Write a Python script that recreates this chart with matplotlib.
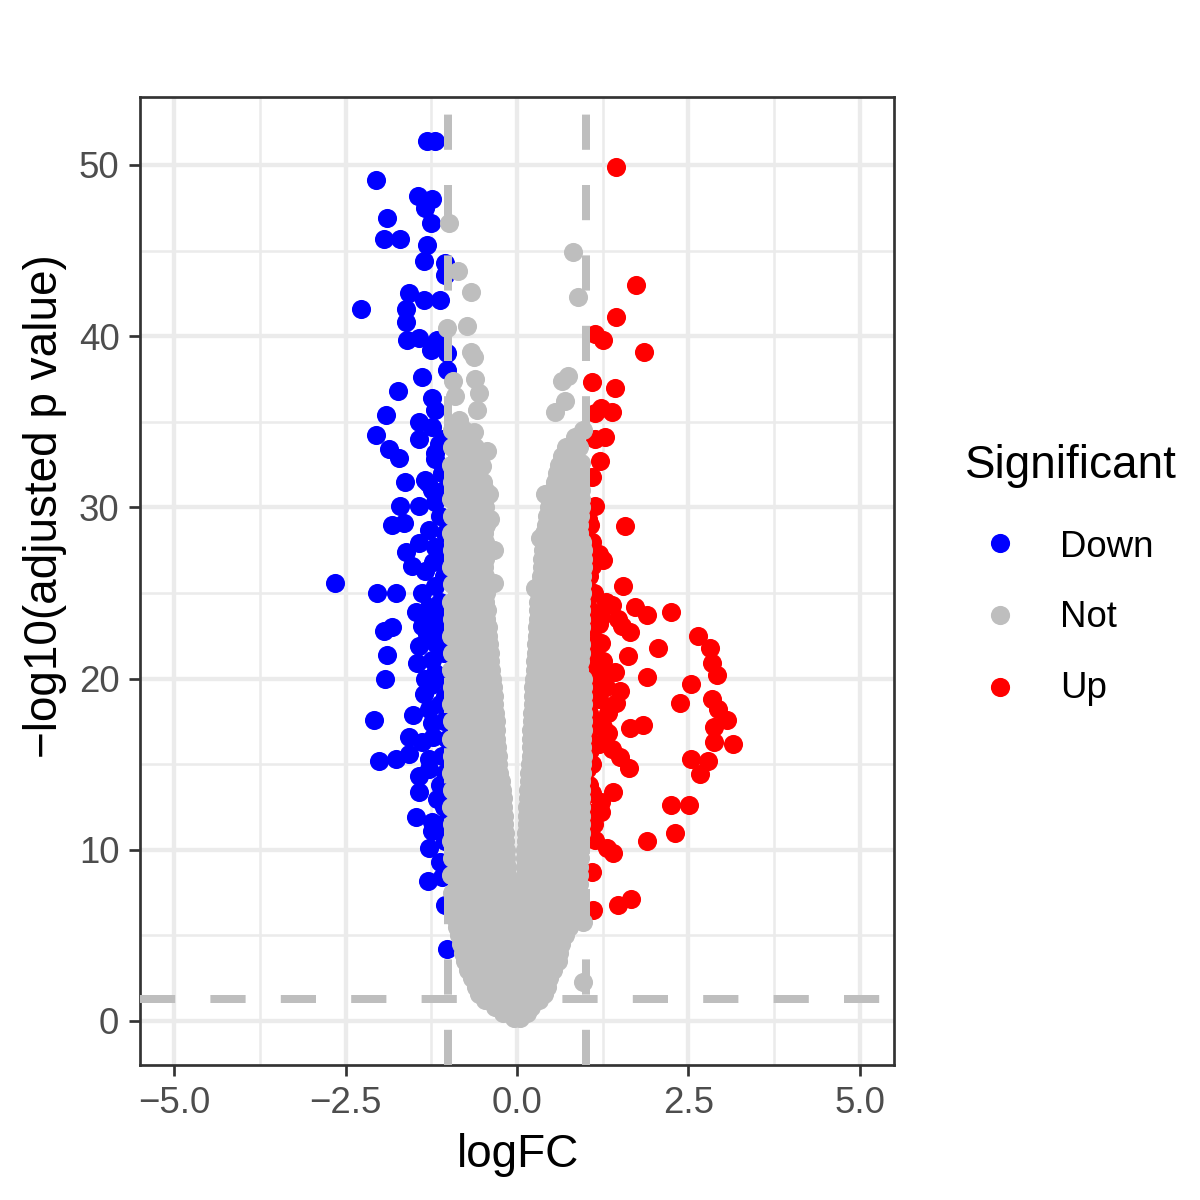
import matplotlib
matplotlib.use("Agg")
import matplotlib.pyplot as plt
from matplotlib.lines import Line2D

plt.rcParams['font.family'] = ['Liberation Sans', 'DejaVu Sans']

# ---------------- data ----------------
down_x = [-1.31, -1.19, -2.06, -1.44, -1.24, -1.34, -1.90, -1.26, -1.94, -1.71, -1.32, -1.35, -1.05, -1.05,
          -1.58, -1.35, -1.12, -2.28, -1.62, -1.62, -1.60, -1.43, -1.26, -1.17, -1.02, -1.02, -1.38, -1.74,
          -1.24, -1.19, -1.91, -1.43, -1.24, -2.06, -1.43, -1.14, -1.87, -1.72, -1.19, -1.19, -1.64, -1.34,
          -1.24, -1.71, -1.43, -1.19, -1.83, -1.65, -1.29, -1.62, -1.43, -1.19, -1.22, -1.53, -1.34, -2.66,
          -2.04, -1.76, -1.39, -1.19, -1.48, -1.24, -1.94, -1.83, -1.39, -1.19, -1.43, -1.19, -1.89, -1.46,
          -1.24, -1.93, -1.34, -1.19, -1.36, -1.51, -1.29, -2.09, -1.24, -1.58, -1.39, -1.22, -1.02, -2.02,
          -1.77, -1.58, -1.29, -1.43, -1.29, -1.43, -1.17, -1.48, -1.24, -1.24, -1.29, -1.12, -1.30, -1.09,
          -1.05, -1.02,
          -1.08, -1.10, -1.06, -1.12, -1.05, -1.10, -1.06, -1.12, -1.05, -1.10, -1.06, -1.10, -1.05, -1.12,
          -1.06, -1.10, -1.05, -1.12, -1.06, -1.10, -1.05, -1.30, -1.28, -1.32, -1.25]
down_y = [51.4, 51.4, 49.1, 48.2, 48.0, 47.5, 46.9, 46.6, 45.7, 45.7, 45.3, 44.4, 44.3, 43.6,
          42.5, 42.1, 42.1, 41.6, 41.6, 40.8, 39.8, 39.9, 39.2, 39.8, 39.0, 38.0, 37.6, 36.8,
          36.4, 35.7, 35.4, 35.0, 34.7, 34.2, 34.0, 33.7, 33.4, 32.9, 33.2, 32.8, 31.5, 31.6,
          31.0, 30.1, 30.1, 30.3, 29.0, 29.1, 28.7, 27.4, 27.9, 27.7, 26.8, 26.6, 26.3, 25.6,
          25.0, 25.0, 25.0, 25.4, 23.9, 23.8, 22.8, 23.0, 23.1, 23.1, 21.9, 22.1, 21.4, 20.9,
          21.1, 20.0, 20.0, 20.3, 19.1, 17.9, 18.2, 17.6, 17.4, 16.6, 16.3, 16.6, 16.5, 15.2,
          15.3, 15.6, 15.3, 14.3, 14.7, 13.4, 12.95, 11.9, 11.6, 11.1, 10.1, 9.3, 8.2, 8.4,
          6.8, 4.2,
          34.0, 32.0, 31.0, 29.5, 28.5, 27.0, 26.0, 24.5, 23.5, 22.5, 21.5, 20.0, 19.0, 18.5,
          17.5, 15.5, 14.5, 13.8, 12.5, 11.5, 10.5, 31.4, 24.2, 22.6, 19.6]

up_x = [1.45, 1.74, 1.44, 1.14, 1.25, 1.86, 1.10, 1.43, 1.23, 1.38, 1.14, 1.14, 1.28, 1.21, 1.09, 1.14,
        1.04, 1.57, 1.19, 1.26, 1.02, 1.09, 1.54, 1.38, 1.72, 1.89, 2.25, 1.23, 1.48, 1.65, 1.53, 1.19,
        1.23, 2.06, 2.64, 2.81, 2.84, 2.92, 1.62, 1.11, 1.43, 1.21, 1.89, 2.54, 1.50, 1.45, 1.33, 2.38,
        2.84, 2.93, 3.07, 2.88, 2.88, 3.15, 1.65, 1.84, 1.04, 1.33, 1.19, 1.38, 1.50, 1.63, 2.54, 2.79,
        2.67, 1.02, 1.09, 1.40, 1.23, 1.23, 1.04, 2.24, 2.51, 2.31, 1.14, 1.31, 1.40, 1.90, 1.09, 1.48,
        1.67, 1.11,
        1.06, 1.10, 1.05, 1.12, 1.06, 1.10, 1.05, 1.12, 1.06, 1.10, 1.05, 1.12, 1.06, 1.10, 1.05, 1.12,
        1.06, 1.30, 1.25, 1.30, 1.20, 1.25]
up_y = [49.9, 43.0, 41.1, 40.1, 39.8, 39.1, 37.3, 37.0, 35.8, 35.6, 35.5, 34.0, 34.1, 32.7, 31.8, 30.1,
        29.3, 28.9, 27.3, 26.95, 27.3, 26.6, 25.4, 24.3, 24.2, 23.7, 23.9, 23.6, 23.5, 22.7, 23.1, 23.2,
        22.1, 21.8, 22.5, 21.8, 20.9, 20.2, 21.3, 21.4, 20.4, 20.3, 20.1, 19.7, 19.3, 18.6, 18.0, 18.6,
        18.8, 18.2, 17.6, 17.2, 16.3, 16.2, 17.1, 17.3, 16.8, 16.8, 16.2, 15.9, 15.4, 14.8, 15.3, 15.2,
        14.4, 14.7, 13.3, 13.4, 12.8, 12.2, 12.2, 12.6, 12.6, 11.0, 10.6, 10.1, 9.8, 10.5, 8.7, 6.8,
        7.1, 6.5,
        29.0, 28.0, 26.0, 25.0, 24.0, 22.5, 21.5, 20.8, 19.8, 19.0, 18.0, 17.5, 15.8, 15.0, 13.8, 11.5,
        11.0, 19.5, 21.0, 24.5, 18.8, 17.2]

# scattered grey points (outside the dense cloud)
not_x = [-0.99, -0.86, -0.67, -1.02, -0.73, -0.67, -0.63, -0.62, -0.94, -0.56, -0.58, -0.90, -0.85, -0.63,
         -0.44, -0.51, -0.41, -0.39, -0.34, -0.34,
         0.81, 0.89, 0.75, 0.65, 0.70, 0.56, 0.97, 0.85, 0.70, 0.94, 0.65, 0.41, 0.56, 0.75, 0.34, 0.51,
         0.65, 0.85, 0.26, 0.46, 0.97, 0.97]
not_y = [46.6, 43.8, 42.6, 40.5, 40.6, 39.1, 38.8, 37.5, 37.4, 36.7, 35.7, 36.5, 35.1, 34.4,
         33.3, 32.4, 30.8, 29.3, 27.5, 25.6,
         44.9, 42.3, 37.7, 37.4, 36.2, 35.6, 34.5, 34.1, 33.0, 32.6, 31.8, 30.8, 30.1, 29.5, 28.2, 28.5,
         27.3, 27.0, 25.3, 26.0, 5.8, 2.3]

# dense grey cloud, read row by row (row height, logFC of the points in that row)
cloud_row_y = [34.5, 33.5, 32.5, 31.5, 30.5, 29.5, 28.5, 27.5, 26.5, 25.5, 24.5, 23.5, 22.5, 21.5,
               20.5, 19.5, 18.5, 17.5, 16.5, 15.5, 14.5, 13.5, 12.5, 11.5, 10.5, 9.5, 8.5,
               7.5, 6.5, 5.5, 4.5, 3.5, 2.5, 1.6, 0.8, 0.15]
cloud_row_x = [
    [-0.95, -0.78],
    [-0.95, -0.78, -0.62, 0.72, 0.90],
    [-0.96, -0.80, -0.64, 0.62, 0.78, 0.92],
    [-0.95, -0.78, -0.62, -0.50, 0.55, 0.72, 0.90],
    [-0.96, -0.80, -0.64, -0.48, 0.48, 0.64, 0.80, 0.94],
    [-0.95, -0.78, -0.62, -0.46, 0.44, 0.60, 0.76, 0.92],
    [-0.96, -0.80, -0.64, -0.48, 0.40, 0.56, 0.72, 0.90],
    [-0.95, -0.78, -0.62, -0.47, 0.38, 0.54, 0.70, 0.86, 0.96],
    [-0.96, -0.80, -0.64, -0.48, 0.36, 0.52, 0.68, 0.84, 0.96],
    [-0.95, -0.78, -0.62, -0.47, 0.33, 0.50, 0.66, 0.82, 0.95],
    [-0.96, -0.80, -0.64, -0.46, 0.31, 0.46, 0.62, 0.78, 0.94],
    [-0.95, -0.78, -0.62, -0.45, 0.30, 0.46, 0.62, 0.78, 0.94],
    [-0.96, -0.80, -0.64, -0.48, -0.42, 0.29, 0.44, 0.60, 0.76, 0.92],
    [-0.95, -0.78, -0.62, -0.46, -0.40, 0.27, 0.44, 0.60, 0.76, 0.94],
    [-0.96, -0.80, -0.64, -0.48, -0.38, 0.26, 0.42, 0.58, 0.74, 0.90],
    [-0.95, -0.78, -0.62, -0.46, -0.35, 0.24, 0.40, 0.56, 0.72, 0.88, 0.96],
    [-0.96, -0.80, -0.64, -0.48, -0.33, 0.23, 0.40, 0.56, 0.72, 0.88, 0.96],
    [-0.95, -0.78, -0.62, -0.46, -0.31, 0.22, 0.38, 0.54, 0.70, 0.86, 0.96],
    [-0.96, -0.80, -0.64, -0.48, -0.30, 0.21, 0.36, 0.52, 0.68, 0.84, 0.95],
    [-0.95, -0.78, -0.62, -0.46, -0.28, 0.20, 0.36, 0.52, 0.68, 0.84, 0.96],
    [-0.96, -0.80, -0.64, -0.48, -0.26, 0.18, 0.34, 0.50, 0.66, 0.82, 0.95],
    [-0.95, -0.78, -0.62, -0.46, -0.30, -0.22, 0.16, 0.32, 0.48, 0.64, 0.80, 0.94],
    [-0.96, -0.80, -0.64, -0.48, -0.32, -0.20, 0.15, 0.30, 0.46, 0.62, 0.78, 0.94],
    [-0.95, -0.78, -0.62, -0.46, -0.30, -0.19, 0.14, 0.30, 0.46, 0.62, 0.78, 0.94],
    [-0.96, -0.80, -0.64, -0.48, -0.32, -0.17, 0.13, 0.28, 0.44, 0.60, 0.76, 0.92],
    [-0.95, -0.78, -0.62, -0.46, -0.30, -0.16, 0.12, 0.28, 0.44, 0.60, 0.76, 0.92],
    [-0.96, -0.80, -0.64, -0.48, -0.32, -0.14, 0.12, 0.26, 0.42, 0.58, 0.74, 0.90],
    [-0.95, -0.80, -0.64, -0.48, -0.32, -0.16, 0.00, 0.12, 0.26, 0.42, 0.58, 0.74, 0.88],
    [-0.93, -0.80, -0.64, -0.48, -0.32, -0.16, 0.00, 0.16, 0.32, 0.48, 0.64, 0.80, 0.88],
    [-0.88, -0.76, -0.62, -0.46, -0.30, -0.15, 0.00, 0.15, 0.30, 0.46, 0.62, 0.76],
    [-0.82, -0.70, -0.55, -0.40, -0.25, -0.10, 0.05, 0.20, 0.35, 0.50, 0.64],
    [-0.76, -0.62, -0.48, -0.34, -0.20, -0.06, 0.08, 0.22, 0.36, 0.50, 0.60],
    [-0.66, -0.52, -0.38, -0.24, -0.10, 0.04, 0.18, 0.32, 0.46],
    [-0.55, -0.42, -0.28, -0.14, 0.00, 0.14, 0.28, 0.40],
    [-0.32, -0.18, -0.05, 0.08, 0.20],
    [-0.05, 0.05],
]
# staggered rows lying between the rows above
cloud_mid_y = [34.0, 33.0, 32.0, 31.0, 30.0, 29.0, 28.0, 27.0, 26.0, 25.0, 24.0, 23.0, 22.0, 21.0,
               20.0, 19.0, 18.0, 17.0, 16.0, 15.0, 14.0, 13.0, 12.0, 11.0, 10.0, 9.0, 8.0,
               7.0, 6.0, 5.0, 4.0, 3.0, 2.0, 1.2, 0.45]
cloud_mid_x = [
    [-0.87, -0.70],
    [-0.87, -0.70, -0.55, 0.65, 0.82],
    [-0.88, -0.72, -0.57, 0.58, 0.74, 0.90],
    [-0.87, -0.70, -0.56, -0.46, 0.52, 0.68, 0.84, 0.94],
    [-0.88, -0.72, -0.56, -0.46, 0.46, 0.62, 0.78, 0.93],
    [-0.87, -0.70, -0.55, -0.45, 0.42, 0.58, 0.74, 0.90],
    [-0.88, -0.72, -0.56, -0.46, 0.39, 0.55, 0.71, 0.87, 0.95],
    [-0.87, -0.70, -0.55, -0.46, 0.37, 0.53, 0.69, 0.85, 0.96],
    [-0.88, -0.72, -0.56, -0.46, 0.35, 0.51, 0.67, 0.83, 0.95],
    [-0.87, -0.70, -0.55, -0.45, 0.32, 0.48, 0.64, 0.80, 0.95],
    [-0.88, -0.72, -0.56, -0.44, 0.30, 0.46, 0.62, 0.78, 0.94],
    [-0.87, -0.70, -0.54, -0.43, 0.29, 0.45, 0.61, 0.77, 0.93],
    [-0.88, -0.72, -0.56, -0.41, 0.28, 0.44, 0.60, 0.76, 0.93],
    [-0.87, -0.70, -0.54, -0.39, 0.26, 0.43, 0.59, 0.75, 0.92],
    [-0.88, -0.72, -0.56, -0.42, -0.36, 0.25, 0.41, 0.57, 0.73, 0.89, 0.96],
    [-0.87, -0.70, -0.54, -0.40, -0.34, 0.23, 0.40, 0.56, 0.72, 0.88, 0.96],
    [-0.88, -0.72, -0.56, -0.40, -0.32, 0.22, 0.39, 0.55, 0.71, 0.87, 0.96],
    [-0.87, -0.70, -0.54, -0.38, -0.30, 0.21, 0.37, 0.53, 0.69, 0.85, 0.96],
    [-0.88, -0.72, -0.56, -0.40, -0.29, 0.20, 0.36, 0.52, 0.68, 0.84, 0.95],
    [-0.87, -0.70, -0.54, -0.38, -0.27, 0.19, 0.35, 0.51, 0.67, 0.83, 0.95],
    [-0.88, -0.72, -0.56, -0.40, -0.24, 0.17, 0.33, 0.49, 0.65, 0.81, 0.94],
    [-0.87, -0.70, -0.54, -0.38, -0.21, 0.16, 0.31, 0.47, 0.63, 0.79, 0.94],
    [-0.88, -0.72, -0.56, -0.40, -0.25, -0.19, 0.14, 0.30, 0.46, 0.62, 0.78, 0.93],
    [-0.87, -0.70, -0.54, -0.38, -0.24, -0.18, 0.13, 0.29, 0.45, 0.61, 0.77, 0.93],
    [-0.88, -0.72, -0.56, -0.40, -0.24, -0.16, 0.12, 0.28, 0.44, 0.60, 0.76, 0.92],
    [-0.87, -0.70, -0.54, -0.38, -0.22, -0.14, 0.11, 0.27, 0.43, 0.59, 0.75, 0.91],
    [-0.88, -0.72, -0.56, -0.40, -0.24, -0.10, 0.08, 0.20, 0.34, 0.50, 0.66, 0.82, 0.90],
    [-0.88, -0.72, -0.56, -0.40, -0.24, -0.08, 0.08, 0.24, 0.40, 0.56, 0.72, 0.86],
    [-0.90, -0.72, -0.56, -0.40, -0.24, -0.08, 0.08, 0.24, 0.40, 0.56, 0.70, 0.82],
    [-0.84, -0.68, -0.52, -0.36, -0.20, -0.05, 0.10, 0.25, 0.40, 0.55, 0.70],
    [-0.79, -0.64, -0.50, -0.35, -0.20, -0.05, 0.10, 0.25, 0.40, 0.54, 0.62],
    [-0.72, -0.58, -0.44, -0.30, -0.16, -0.02, 0.12, 0.26, 0.40, 0.52],
    [-0.60, -0.46, -0.32, -0.18, -0.04, 0.10, 0.24, 0.36, 0.44],
    [-0.46, -0.32, -0.18, -0.05, 0.08, 0.22, 0.32],
    [-0.20, -0.08, 0.06, 0.14],
]

categories = ['Down', 'Not', 'Up']
colors = {'Down': '#0000FF', 'Not': '#BEBEBE', 'Up': '#FF0000'}

x_breaks = [-5.0, -2.5, 0.0, 2.5, 5.0]
x_labels = ['\u22125.0', '\u22122.5', '0.0', '2.5', '5.0']
y_breaks = [0, 10, 20, 30, 40, 50]
fc_cut = 1.0
p_cut = 1.30103  # -log10(0.05)

# ---------------- figure ----------------
fig = plt.figure(figsize=(4, 4), dpi=300)
ax = fig.add_axes([140 / 1200, 1 - 1065 / 1200, (894 - 140) / 1200, (1065 - 97) / 1200])

ax.set_xlim(-5.5, 5.5)
ax.set_ylim(-2.57, 53.97)

# grid
ax.set_axisbelow(True)
ax.set_xticks(x_breaks)
ax.set_xticklabels(x_labels)
ax.set_yticks(y_breaks)
ax.set_xticks([-3.75, -1.25, 1.25, 3.75], minor=True)
ax.set_yticks([5, 15, 25, 35, 45], minor=True)
ax.grid(which='major', color='#EBEBEB', linewidth=1.05)
ax.grid(which='minor', color='#EBEBEB', linewidth=0.6)
ax.tick_params(which='minor', length=0)
ax.tick_params(which='major', length=2.75, width=0.65, color='#333333',
               labelsize=8.8, labelcolor='#4D4D4D', pad=2.2)
for sp in ax.spines.values():
    sp.set_color('#333333')
    sp.set_linewidth(0.65)

S = 21
ax.scatter(down_x, down_y, s=S, c=colors['Down'], linewidths=0, zorder=2)
ax.scatter(up_x, up_y, s=S, c=colors['Up'], linewidths=0, zorder=2)
cx, cy = [], []
for rows_y, rows_x in ((cloud_row_y, cloud_row_x), (cloud_mid_y, cloud_mid_x)):
    for yv, xs in zip(rows_y, rows_x):
        for xv in xs:
            cx.append(xv)
            cy.append(yv)
ax.scatter(cx + not_x, cy + not_y, s=S, c=colors['Not'], linewidths=0, zorder=3)

dash = dict(color='#BEBEBE', linewidth=1.92, linestyle=(0, (4.4, 4.4)), zorder=4)
ax.axvline(-fc_cut, **dash)
ax.axvline(fc_cut, **dash)
ax.axhline(p_cut, **dash)

# axis titles
fig.text(518 / 1200, 0.0275, 'logFC', fontsize=11, color='black', ha='center', va='baseline')
fig.text(0.0375, 1 - 506 / 1200, '\u2212log10(adjusted p value)', fontsize=11, color='black',
         ha='center', va='center', rotation=90)

# legend (manual, ggplot style)
fig.text(965 / 1200, 1 - 478 / 1200, 'Significant', fontsize=11, color='black', ha='left', va='baseline')
key_y = [543, 615, 687]
lab_base = [557, 627, 698]
for cat, ky, lb in zip(categories, key_y, lab_base):
    fig.add_artist(Line2D([1000 / 1200], [1 - ky / 1200], marker='o', markersize=4.6,
                          markerfacecolor=colors[cat], markeredgewidth=0, linestyle='none',
                          transform=fig.transFigure))
    fig.text(1060 / 1200, 1 - lb / 1200, cat, fontsize=8.8, color='black', ha='left', va='baseline')

fig.savefig('out.png', dpi=300, facecolor='white')
